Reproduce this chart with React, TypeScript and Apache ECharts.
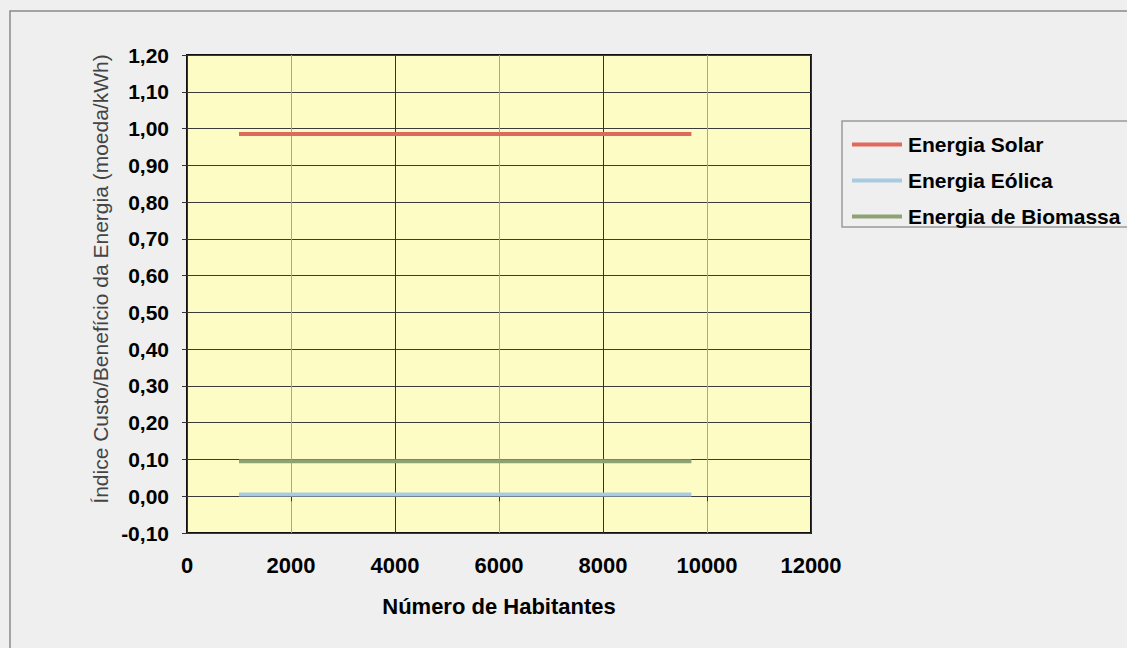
import React, { useEffect, useRef } from "react";
import * as echarts from "echarts";

const xStartEnd = [1000, 9700];
const solarValues = [0.985, 0.985];
const eolicaValues = [0.005, 0.005];
const biomassaValues = [0.095, 0.095];
const seriesNames = ["Energia Solar", "Energia Eólica", "Energia de Biomassa"];
const seriesColors = ["#DE6A5C", "#A9CBE2", "#8FA274"];
const xTitle = "Número de Habitantes";
const yTitle = "Índice Custo/Benefício da Energia (moeda/kWh)";

const FONT = "'Liberation Sans', Arial, Helvetica, sans-serif";

export default function App() {
  const ref = useRef<HTMLDivElement>(null);
  useEffect(() => {
    if (!ref.current) return;
    document.body.style.margin = "0";
    const chart = echarts.init(ref.current, undefined, { renderer: "svg" });
    const toPairs = (vals: number[]) => xStartEnd.map((x, i) => [x, vals[i]]);
    const allValues = [solarValues, eolicaValues, biomassaValues];
    chart.setOption({
      animation: false,
      backgroundColor: "#EFEFEF",
      textStyle: { fontFamily: FONT },
      grid: {
        left: 187,
        top: 55,
        right: 1127 - 811,
        bottom: 648 - 533,
        show: true,
        backgroundColor: "#FCFCC4",
        borderColor: "#111",
        borderWidth: 2,
      },
      xAxis: {
        type: "value",
        min: 0,
        max: 12000,
        interval: 2000,
        axisLine: { show: false },
        axisTick: { show: true, length: 5, lineStyle: { color: "#333" } },
        axisLabel: {
          margin: 21,
          fontSize: 22,
          fontWeight: "bold",
          color: "#000",
          fontFamily: FONT,
          formatter: (v: number) => String(v),
        },
        splitLine: {
          show: true,
          lineStyle: { color: ["#333", "#A8A890"], width: 1 },
        },
        name: xTitle,
        nameLocation: "middle",
        nameGap: 62,
        nameTextStyle: { fontSize: 22, fontWeight: "bold", color: "#000", fontFamily: FONT },
      },
      yAxis: {
        type: "value",
        min: -0.1,
        max: 1.2,
        interval: 0.1,
        axisLine: { show: false },
        axisTick: { show: true, length: 5, lineStyle: { color: "#333" } },
        axisLabel: {
          margin: 18,
          fontSize: 21,
          fontWeight: "bold",
          color: "#000",
          fontFamily: FONT,
          formatter: (v: number) => v.toFixed(2).replace(".", ","),
        },
        splitLine: { show: true, lineStyle: { color: "#3a3a3a", width: 1 } },
      },
      legend: {
        orient: "vertical",
        left: 847,
        top: 129,
        icon: "rect",
        itemWidth: 50,
        itemHeight: 4,
        itemGap: 15,
        data: seriesNames,
        textStyle: {
          fontSize: 21,
          fontWeight: "bold",
          color: "#000",
          fontFamily: FONT,
          padding: [0, 0, 0, 1],
        },
      },
      graphic: [
        {
          type: "rect",
          shape: { x: 10, y: 11, width: 1140, height: 660 },
          style: { fill: "none", stroke: "#8a8a8a", lineWidth: 1.5 },
          silent: true,
        },
        {
          type: "rect",
          shape: { x: 842, y: 121, width: 300, height: 106 },
          style: { fill: "none", stroke: "#9a9a9a", lineWidth: 1.5 },
          silent: true,
        },
        {
          type: "text",
          x: 100,
          y: 279,
          rotation: Math.PI / 2,
          style: {
            text: yTitle,
            fontSize: 21,
            fontFamily: FONT,
            fill: "#444",
            align: "center",
            verticalAlign: "middle",
            textAlign: "center",
            textVerticalAlign: "middle",
          },
          silent: true,
        },
      ],
      series: seriesNames.map((name, i) => ({
        name,
        type: "line",
        data: toPairs(allValues[i]),
        symbol: "none",
        showSymbol: false,
        color: seriesColors[i],
        lineStyle: { color: seriesColors[i], width: 4 },
      })),
    });
    return () => chart.dispose();
  }, []);
  return (
    <div
      ref={ref}
      style={{ position: "fixed", left: 0, top: 0, width: 1127, height: 648 }}
    />
  );
}
